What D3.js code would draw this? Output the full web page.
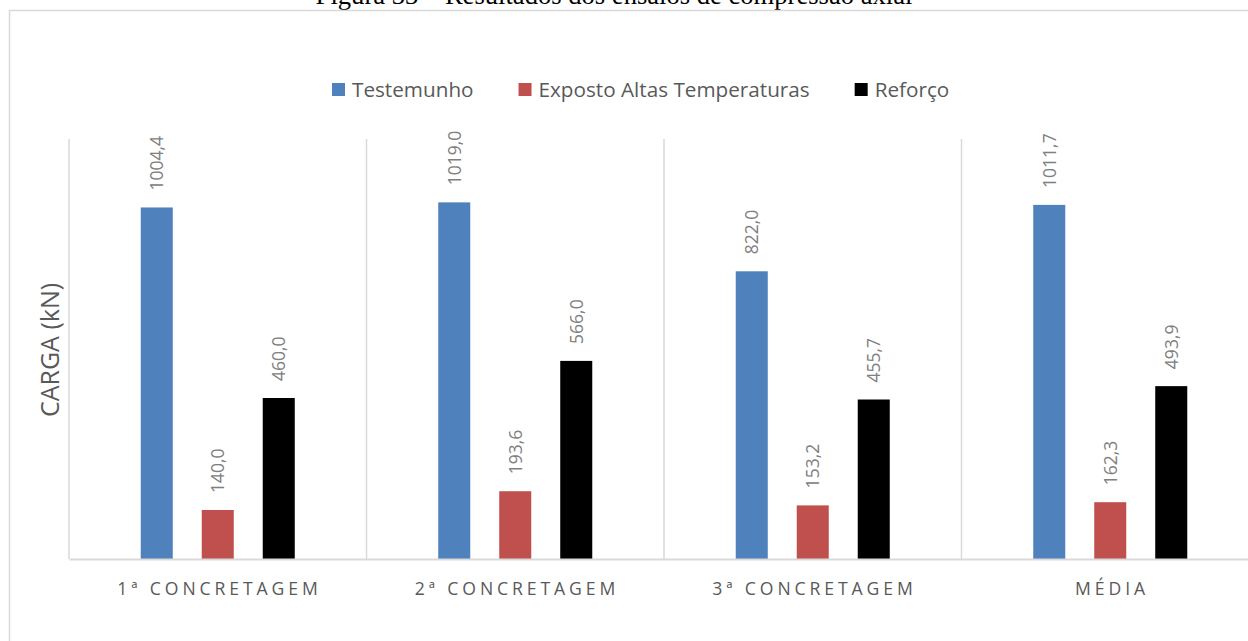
<!DOCTYPE html>
<html>
<head>
<meta charset="utf-8">
<script src="https://cdn.jsdelivr.net/npm/d3@7/dist/d3.min.js"></script>
<style>
  html, body { margin: 0; padding: 0; background: #fff; }
  svg { display: block; }
</style>
</head>
<body>
<svg id="chart" width="1248" height="641"></svg>
<script>
// Carga de ruptura (kN) por concretagem e por condição do pilar
const categories = ["1ª CONCRETAGEM", "2ª CONCRETAGEM", "3ª CONCRETAGEM", "MÉDIA"];
const seriesNames = ["Testemunho", "Exposto Altas Temperaturas", "Reforço"];
const testemunho = [1004.4, 1019.0, 822.0, 1011.7];
const expostoAltasTemperaturas = [140.0, 193.6, 153.2, 162.3];
const reforco = [460.0, 566.0, 455.7, 493.9];
const seriesColors = ["#4f81bd", "#c0504d", "#000000"];
const yDomain = [0, 1200];

const seriesValues = [testemunho, expostoAltasTemperaturas, reforco];
const rows = categories.map((c, i) => ({
  category: c,
  values: seriesNames.map((s, j) => ({ series: s, value: seriesValues[j][i], color: seriesColors[j] }))
}));

const svg = d3.select("#chart");
const W = 1248, H = 641;
const plot = { left: 69, top: 139, bottom: 559, right: 69 + 4 * 297.5 };

svg.append("rect").attr("width", W).attr("height", H).attr("fill", "#fff");

// Legenda da figura (parte superior)
svg.append("text")
  .attr("x", 614).attr("y", 4)
  .attr("text-anchor", "middle")
  .attr("font-family", "'Liberation Serif', 'Times New Roman', serif")
  .attr("font-size", 26.6)
  .attr("fill", "#000")
  .text("Figura 33 – Resultados dos ensaios de compressão axial");

// Moldura do gráfico
svg.append("rect")
  .attr("x", 9.5).attr("y", 10.5)
  .attr("width", W + 20).attr("height", H + 20)
  .attr("fill", "none").attr("stroke", "#d9d9d9").attr("stroke-width", 1.5);

const x0 = d3.scaleBand().domain(categories).range([plot.left, plot.right]).padding(0);
const x1 = d3.scaleBand().domain(seriesNames).range([0, x0.bandwidth()])
  .paddingInner(0.475).paddingOuter(1.176);
const y = d3.scaleLinear().domain(yDomain).range([plot.bottom, plot.top]);

// Separadores verticais entre categorias
svg.append("g").selectAll("line")
  .data(categories)
  .join("line")
  .attr("x1", d => x0(d)).attr("x2", d => x0(d))
  .attr("y1", plot.top).attr("y2", plot.bottom)
  .attr("stroke", "#d9d9d9").attr("stroke-width", 1.5);

// Barras
const groups = svg.append("g").selectAll("g")
  .data(rows)
  .join("g")
  .attr("transform", d => `translate(${x0(d.category)},0)`);

groups.selectAll("rect")
  .data(d => d.values)
  .join("rect")
  .attr("x", d => x1(d.series))
  .attr("width", x1.bandwidth())
  .attr("y", d => y(d.value))
  .attr("height", d => y(0) - y(d.value))
  .attr("fill", d => d.color);

// Rótulos de valor (verticais)
const fmt = v => d3.format(".1f")(v).replace(".", ",");
groups.selectAll("text")
  .data(d => d.values)
  .join("text")
  .attr("transform", d => `translate(${x1(d.series) + x1.bandwidth() / 2},${y(d.value) - 17}) rotate(-90)`)
  .attr("dy", "0.36em")
  .attr("text-anchor", "start")
  .attr("font-family", "'Open Sans', sans-serif")
  .attr("font-size", 17.5)
  .attr("fill", "#808080")
  .text(d => fmt(d.value));

// Eixo X (linha de base e rótulos das categorias)
const xAxis = svg.append("g")
  .attr("transform", `translate(0,${plot.bottom})`)
  .call(d3.axisBottom(x0).tickSize(0).tickPadding(0));
xAxis.select(".domain").attr("stroke", "#d9d9d9").attr("stroke-width", 2);
xAxis.selectAll(".tick text")
  .attr("y", 36)
  .attr("dy", 0)
  .attr("dx", "0.1em")
  .attr("font-family", "'Open Sans', sans-serif")
  .attr("font-size", 17.6)
  .attr("letter-spacing", "3.9px")
  .attr("fill", "#595959");

// Título do eixo Y
svg.append("text")
  .attr("transform", "translate(50,350) rotate(-90)")
  .attr("dy", "0.36em")
  .attr("text-anchor", "middle")
  .attr("font-family", "'Open Sans', sans-serif")
  .attr("font-size", 25)
  .attr("fill", "#595959")
  .text("CARGA (kN)");

// Legenda das séries
const legend = svg.append("g").attr("transform", "translate(332,90)");
let lx = 0;
seriesNames.forEach((name, i) => {
  const item = legend.append("g").attr("transform", `translate(${lx},0)`);
  item.append("rect")
    .attr("x", 0).attr("y", -7).attr("width", 13).attr("height", 13)
    .attr("fill", seriesColors[i]);
  const t = item.append("text")
    .attr("x", 20).attr("y", 7)
    .attr("font-family", "'Open Sans', sans-serif")
    .attr("font-size", 20.7)
    .attr("fill", "#595959")
    .text(name);
  lx += 20 + t.node().getComputedTextLength() + 45;
});
</script>
</body>
</html>
